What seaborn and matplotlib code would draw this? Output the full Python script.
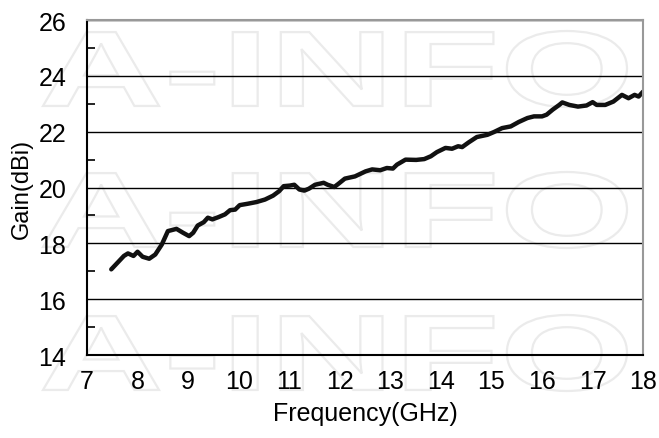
import numpy as np
import pandas as pd
import matplotlib
matplotlib.use('Agg')
import matplotlib.pyplot as plt
import seaborn as sns
from matplotlib.textpath import TextPath
from matplotlib.font_manager import FontProperties
from matplotlib.patches import PathPatch
from matplotlib.path import Path
from matplotlib.ticker import MultipleLocator

# values
freq = [7.48, 7.73, 7.81, 7.92, 8.0, 8.1, 8.23, 8.35, 8.48, 8.6, 8.77, 8.9, 9.02, 9.1,
        9.19, 9.31, 9.39, 9.48, 9.6, 9.73, 9.83, 9.93, 10.02, 10.18, 10.35, 10.52,
        10.68, 10.8, 10.89, 11.01, 11.1, 11.2, 11.3, 11.39, 11.51, 11.68, 11.76, 11.89,
        11.97, 12.1, 12.3, 12.51, 12.64, 12.8, 12.93, 13.05, 13.13, 13.3, 13.51, 13.67,
        13.8, 13.92, 14.09, 14.22, 14.34, 14.42, 14.55, 14.71, 14.92, 15.05, 15.21,
        15.38, 15.54, 15.71, 15.84, 16.0, 16.09, 16.21, 16.34, 16.4, 16.54, 16.71,
        16.88, 17.0, 17.08, 17.25, 17.41, 17.58, 17.71, 17.83, 17.91, 18.0]
gain = [17.07, 17.55, 17.64, 17.55, 17.7, 17.52, 17.45, 17.6, 17.96, 18.44, 18.52, 18.38,
        18.26, 18.38, 18.64, 18.76, 18.92, 18.86, 18.94, 19.04, 19.19, 19.21, 19.37,
        19.42, 19.48, 19.57, 19.71, 19.87, 20.05, 20.07, 20.1, 19.93, 19.89, 19.96, 20.1,
        20.17, 20.1, 20.02, 20.13, 20.32, 20.4, 20.58, 20.65, 20.62, 20.7, 20.68, 20.82,
        21.0, 20.99, 21.02, 21.12, 21.27, 21.42, 21.39, 21.48, 21.45, 21.62, 21.81,
        21.89, 21.99, 22.13, 22.19, 22.35, 22.49, 22.55, 22.55, 22.61, 22.79, 22.96,
        23.05, 22.96, 22.9, 22.94, 23.06, 22.96, 22.96, 23.08, 23.32, 23.2, 23.32,
        23.26, 23.44]

xticks = [7, 8, 9, 10, 11, 12, 13, 14, 15, 16, 17, 18]
yticks = [14, 16, 18, 20, 22, 24, 26]
watermark = "A-INFO"

sns.set_style('white')
plt.rcParams['font.family'] = ['Liberation Sans', 'DejaVu Sans']

df = pd.DataFrame({'Frequency': freq, 'Gain': gain})

fig = plt.figure(figsize=(6.59, 4.39), dpi=100)
ax = fig.add_axes([0.132, 0.189, 0.844, 0.763])
ax.patch.set_alpha(0)

# watermark rows, stretched outline text behind the axes
fp = FontProperties(family='Liberation Sans', weight='bold')
tp = TextPath((0, 0), watermark, size=100, prop=fp)
ext = tp.get_extents()
for top, bot in [(32, 108), (173, 249), (316, 392)]:
    v = tp.vertices.copy()
    v[:, 0] = (v[:, 0] - ext.x0) / ext.width * (627 - 43) + 43
    v[:, 1] = (v[:, 1] - ext.y0) / ext.height * (bot - top) + (439 - bot)
    v[:, 0] /= 659
    v[:, 1] /= 439
    p = PathPatch(Path(v, tp.codes), transform=fig.transFigure, fc='none',
                  ec='#ebebeb', lw=1.6, zorder=-1)
    fig.add_artist(p)

sns.lineplot(data=df, x='Frequency', y='Gain', ax=ax, color='#111111', lw=3.2)

ax.set_xlim(7, 18)
ax.set_ylim(14, 26)
ax.set_xticks(xticks)
ax.set_yticks(yticks)
ax.xaxis.set_minor_locator(MultipleLocator(0.5))
ax.yaxis.set_minor_locator(MultipleLocator(1))
ax.grid(axis='y', which='major', color='black', lw=1.0)
ax.tick_params(axis='x', which='both', direction='in', length=6, width=1.2,
               color='black', labelsize=18, pad=10, labelcolor='black')
ax.tick_params(axis='y', which='major', length=0, labelsize=18, pad=15,
               labelcolor='black')
ax.tick_params(axis='y', which='minor', direction='in', length=6, width=1.2,
               color='black', left=True)

ax.set_xlabel('Frequency(GHz)', fontsize=18, labelpad=6, color='black')
ax.set_ylabel('Gain(dBi)', fontsize=17, labelpad=4, color='black')

for s in ['left', 'bottom']:
    ax.spines[s].set_color('black')
    ax.spines[s].set_linewidth(1.5)
for s in ['top', 'right']:
    ax.spines[s].set_color('#999999')
    ax.spines[s].set_linewidth(1.5)
    ax.spines[s].set_visible(True)

fig.savefig('out.png', dpi=100)
